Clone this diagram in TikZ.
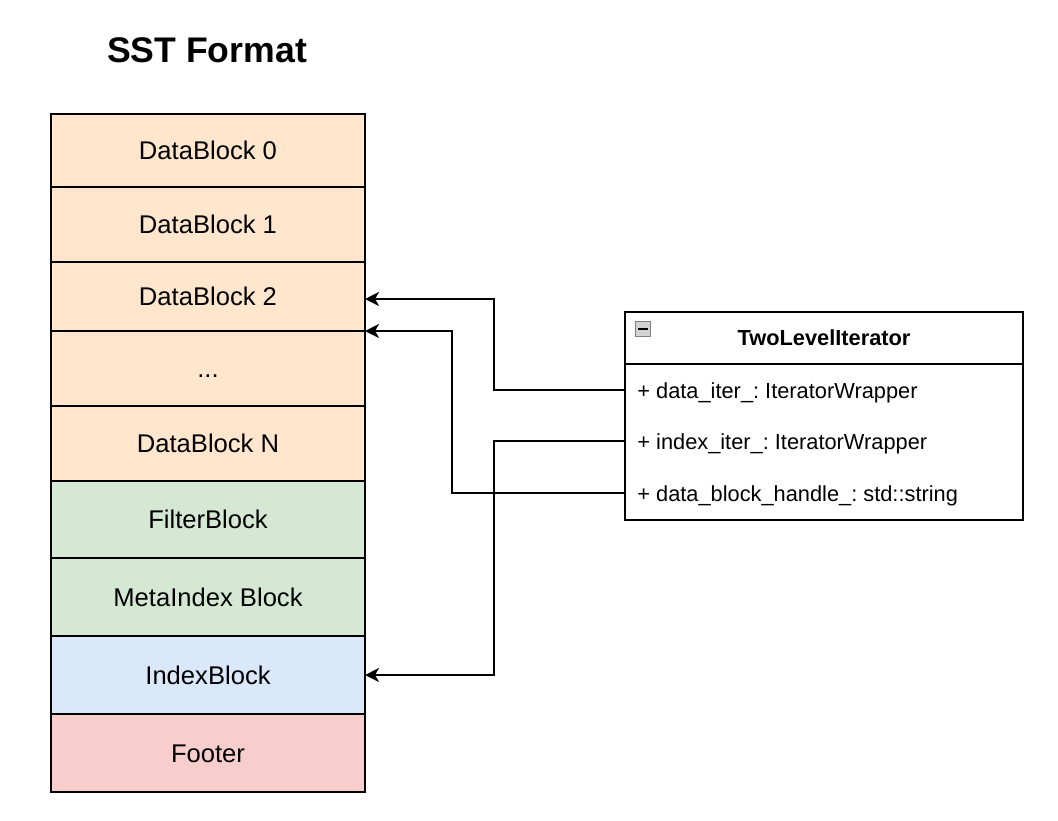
\documentclass[tikz,border=0pt]{standalone}
\usepackage{fontspec}
\setmainfont{Liberation Sans}
\usetikzlibrary{arrows.meta}
\definecolor{orng}{HTML}{FFE6CC}
\definecolor{grn}{HTML}{D5E8D4}
\definecolor{blu}{HTML}{DAE8FC}
\definecolor{rd}{HTML}{F8CECC}
\frenchspacing
\tikzset{ blk/.style = { draw
                       , line width   = 1pt
                       , inner sep    = 0pt
                       , outer sep    = 0pt
                       , minimum width = 157pt
                       , text height  = 9.2pt
                       , text depth   = 0pt
                       , font = \fontsize{12.8}{15}\selectfont
                       },
          cls/.style = { draw
                       , line width   = 1pt
                       , inner sep    = 0pt
                       , outer sep    = 0pt
                       , minimum width = 199pt
                       , font = \bfseries\fontsize{10.9}{13}\selectfont
                       },
          attr/.style = { anchor = west
                        , inner sep = 0pt
                        , font = \fontsize{10.9}{13}\selectfont
                        },
          link/.style = { line width = 1pt
                        , -{Stealth[length=7pt, width=7pt, inset=2pt]}
                        }
        }
\begin{document}
\begin{tikzpicture}[x=0.5pt, y=-0.5pt]
    \useasboundingbox (0,0) rectangle (1058,820);
    \node[font=\bfseries\fontsize{17.8}{20}\selectfont] (title) at (207,50) {SST Format};
    % sst blocks
    \node[blk, fill=orng, minimum height=36.5pt] (db0)    at (208,150.5) {DataBlock 0};
    \node[blk, fill=orng, minimum height=37.5pt] (db1)    at (208,224.5) {DataBlock 1};
    \node[blk, fill=orng, minimum height=34.5pt] (db2)    at (208,296.5) {DataBlock 2};
    \node[blk, fill=orng, minimum height=37.5pt] (dots)   at (208,368.5) {...};
    \node[blk, fill=orng, minimum height=37.5pt] (dbn)    at (208,443.5) {DataBlock N};
    \node[blk, fill=grn,  minimum height=38.5pt] (filter) at (208,519.5) {FilterBlock};
    \node[blk, fill=grn,  minimum height=39pt]   (meta)   at (208,597)   {MetaIndex Block};
    \node[blk, fill=blu,  minimum height=39pt]   (index)  at (208,675)   {IndexBlock};
    \node[blk, fill=rd,   minimum height=39pt]   (footer) at (208,753)   {Footer};
    % iterator class
    \node[cls, minimum height=26pt] (head) at (824,338) {TwoLevelIterator};
    \node[cls, minimum height=78pt, anchor=north] (body) at (head.south) {};
    \node[draw=gray, fill=gray!35, line width=0.5pt, minimum size=7.5pt, inner sep=0pt] (icon) at (642.5,328.5) {};
    \draw[line width=1pt] ([xshift=1.5pt]icon.west) -- ([xshift=-1.5pt]icon.east);
    \node[attr] (fa) at (637,393) {+ data\_iter\_: IteratorWrapper};
    \node[attr] (fi) at (637,444) {+ index\_iter\_: IteratorWrapper};
    \node[attr] (fh) at (637,496) {+ data\_block\_handle\_: std::string};
    % links
    \draw[link] ([yshift=1.5pt]fa.west -| body.west) -- ++(-65.5pt,0) |- ([yshift=-1.25pt]db2.east);
    \draw[link] ([yshift=1.5pt]fi.west -| body.west) -- ++(-65.5pt,0) |- (index.east);
    \draw[link] ([yshift=1.5pt]fh.west -| body.west) -- ++(-86.5pt,0) |- (db2.south east);
\end{tikzpicture}
\end{document}
